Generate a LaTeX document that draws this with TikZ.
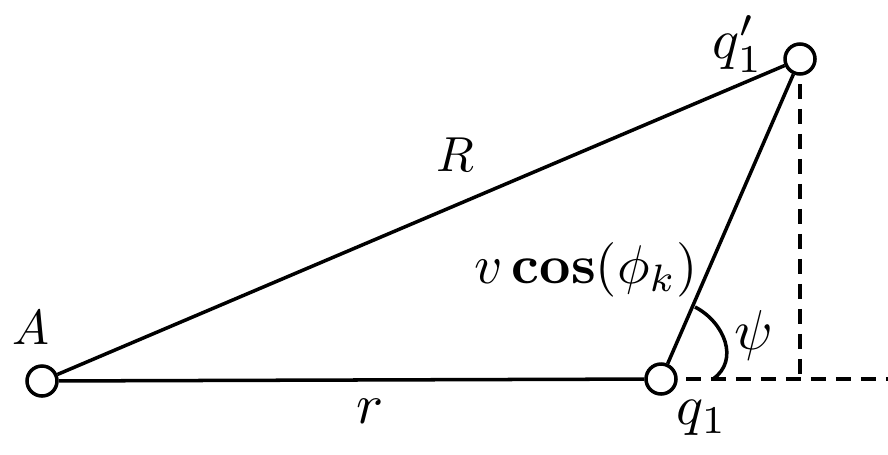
\documentclass[tikz,border=0pt]{standalone}
\usepackage{amsmath}
\usepackage{bm}
\usepackage{tikz}

\tikzset{
  pt/.style={circle,draw,fill=white,minimum size=0.6cm,inner sep=0pt,line width=2pt},
  lbl/.style={inner sep=0pt,scale=3.2},
  tlbl/.style={inner sep=0pt,scale=2.8},
}

\begin{document}
\begin{tikzpicture}[x=0.02cm,y=-0.02cm,line width=2pt]
            \useasboundingbox (0,0) rectangle (888,454);
            \coordinate (foot) at (800,379);
            \coordinate (far) at (888,379);
            \draw[dashed,dash pattern=on 0.3cm off 0.2cm] (800,59) -- (foot);
            \draw[dashed,dash pattern=on 0.3cm off 0.2cm] (661,379) -- (far);
            \draw (695,307) .. controls (724,322) and (740,360) .. (713,379);
            \node[pt] (A) at (42,381) {};
            \node[pt] (q) at (661,379) {};
            \node[pt] (qp) at (800,59) {};
            \draw (A) -- (q);
            \draw (A) -- (qp);
            \draw (q) -- (qp);
            \node[tlbl] (Alab) at (31,328) {$A$};
            \node[tlbl] (Rlab) at (455,155) {$R$};
            \node[tlbl,scale=1.15] (rlab) at (370,411) {$r$};
            \node[lbl] (qlab) at (702,418) {$q_1$};
            \node[lbl] (qplab) at (738,44) {$q_1'$};
            \node[lbl] (psilab) at (754,335) {$\psi$};
            \node[lbl,scale=0.97] (vlab) at (586,270) {$v\,\mathbf{cos}(\phi_k)$};
        \end{tikzpicture}
\end{document}
